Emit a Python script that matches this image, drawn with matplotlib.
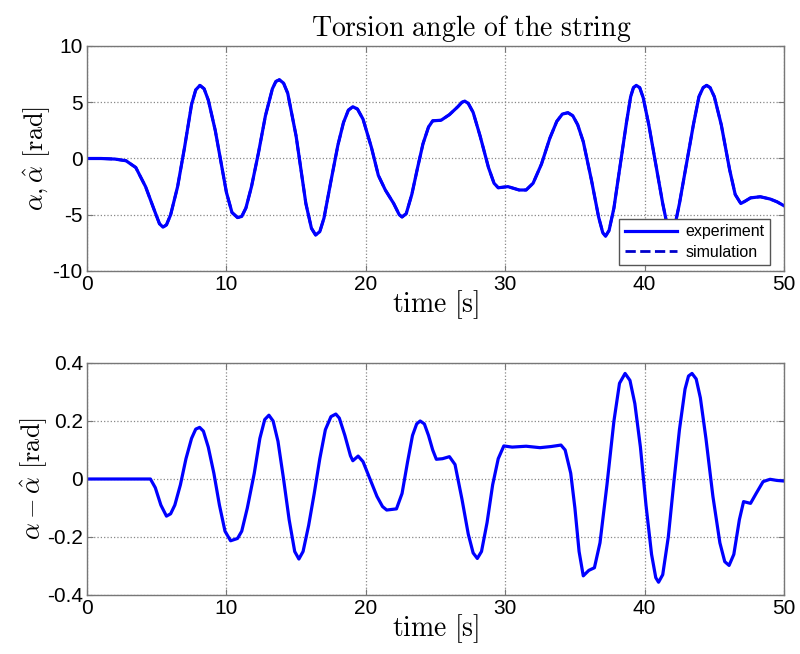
import matplotlib
matplotlib.use("Agg")
import matplotlib.pyplot as plt

plt.rcParams['mathtext.fontset'] = 'cm'
plt.rcParams['font.family'] = ['Liberation Sans', 'DejaVu Sans']
plt.rcParams['axes.unicode_minus'] = False

# Top panel: torsion angle alpha [rad]
t_top = [0, 1, 2, 2.8, 3.5, 4.2, 4.8, 5.2, 5.45, 5.7, 6.0, 6.5, 7.0, 7.5, 7.8, 8.1, 8.4, 8.7,
         9.2, 10.0, 10.4, 10.8, 11.1, 11.4, 11.8, 12.3, 12.8, 13.3, 13.55, 13.8, 14.1, 14.4,
         15.0, 15.7, 16.1, 16.4, 16.7, 17.0, 17.5, 18.0, 18.4, 18.75, 19.07, 19.4, 19.8,
         20.4, 20.9, 21.4, 22.0, 22.4, 22.6, 22.9, 23.3, 23.7, 24.1, 24.5, 24.8, 25.4, 26.0,
         26.6, 26.9, 27.1, 27.35, 27.7, 28.2, 28.8, 29.2, 29.5, 30.2, 31.0, 31.5, 32.0, 32.6,
         33.2, 33.7, 34.1, 34.5, 34.85, 35.2, 35.6, 36.2, 36.7, 37.0, 37.2, 37.45, 37.8, 38.2,
         38.7, 39.0, 39.2, 39.4, 39.65, 39.9, 40.3, 40.8, 41.3, 41.6, 41.9, 42.2, 42.5, 43.0,
         43.5, 43.9, 44.2, 44.45, 44.7, 45.0, 45.5, 46.1, 46.5, 46.9, 47.2, 47.6, 48.3, 49.0,
         49.5, 50.0]
alpha = [0, 0, -0.05, -0.2, -0.8, -2.5, -4.5, -5.8, -6.1, -5.9, -5.0, -2.5, 1.0, 4.8, 6.1, 6.5, 6.2, 5.2,
         2.5, -3.0, -4.8, -5.25, -5.15, -4.4, -2.5, 0.5, 3.8, 6.2, 6.85, 7.0, 6.7, 5.8,
         2.0, -4.0, -6.2, -6.8, -6.5, -5.3, -2.0, 1.2, 3.2, 4.3, 4.6, 4.4, 3.5,
         1.0, -1.5, -2.8, -4.0, -5.0, -5.2, -4.9, -3.2, -0.9, 1.3, 2.8, 3.35, 3.4, 3.9,
         4.6, 5.0, 5.1, 4.9, 4.1, 2.0, -0.8, -2.2, -2.6, -2.5, -2.8, -2.8, -2.2, -0.5,
         1.8, 3.3, 3.95, 4.07, 3.8, 3.0, 1.5, -2.0, -5.2, -6.6, -6.9, -6.4, -4.4, -1.0,
         3.2, 5.5, 6.3, 6.5, 6.3, 5.4, 3.0, -0.5, -4.0, -5.8, -6.4, -5.8, -4.0, -0.5,
         3.0, 5.5, 6.3, 6.5, 6.3, 5.5, 3.0, -1.0, -3.2, -4.0, -3.8, -3.5, -3.4, -3.6,
         -3.85, -4.2]

# Bottom panel: alpha - alpha_hat [rad]
t_bot = [0, 4.55, 4.9, 5.3, 5.7, 6.0, 6.3, 6.7, 7.1, 7.5, 7.8, 8.08, 8.35, 8.7, 9.1, 9.5, 9.9,
         10.3, 10.8, 11.1, 11.5, 12.0, 12.4, 12.75, 13.05, 13.35, 13.7, 14.1, 14.5, 14.9, 15.2,
         15.5, 15.9, 16.3, 16.7, 17.1, 17.5, 17.85, 18.1, 18.5, 18.9, 19.07, 19.45, 19.8, 20.3,
         20.8, 21.2, 21.5, 22.2, 22.6, 23.0, 23.35, 23.65, 23.9, 24.2, 24.5, 24.8, 25.06, 25.5,
         26.0, 26.4, 26.9, 27.35, 27.7, 28.0, 28.3, 28.7, 29.1, 29.5, 29.9, 30.5, 31.5, 32.5,
         33.3, 34.0, 34.3, 34.7, 35.0, 35.3, 35.6, 36.0, 36.4, 36.8, 37.3, 37.8, 38.2, 38.6,
         38.95, 39.3, 39.7, 40.1, 40.5, 40.8, 41.0, 41.3, 41.7, 42.1, 42.5, 42.9, 43.15, 43.4,
         43.7, 44.0, 44.4, 44.9, 45.4, 45.75, 46.06, 46.4, 46.8, 47.1, 47.6, 48.0, 48.5, 49.0,
         49.5, 50.0]
err = [0, 0, -0.03, -0.09, -0.128, -0.12, -0.09, -0.02, 0.07, 0.14, 0.172, 0.178, 0.165, 0.11, 0.02, -0.09, -0.18,
       -0.213, -0.205, -0.18, -0.10, 0.02, 0.14, 0.205, 0.22, 0.2, 0.13, 0.0, -0.14, -0.25, -0.276,
       -0.25, -0.16, -0.05, 0.07, 0.17, 0.215, 0.224, 0.21, 0.15, 0.08, 0.063, 0.079, 0.06, 0.0,
       -0.06, -0.095, -0.107, -0.103, -0.05, 0.06, 0.15, 0.19, 0.20, 0.19, 0.15, 0.10, 0.068, 0.07,
       0.077, 0.05, -0.07, -0.19, -0.255, -0.274, -0.25, -0.15, -0.02, 0.07, 0.114, 0.11, 0.113, 0.108,
       0.112, 0.117, 0.10, 0.02, -0.10, -0.25, -0.334, -0.315, -0.306, -0.22, -0.02, 0.2, 0.33, 0.364,
       0.34, 0.26, 0.11, -0.09, -0.26, -0.34, -0.356, -0.33, -0.2, -0.01, 0.17, 0.31, 0.355, 0.364,
       0.345, 0.28, 0.14, -0.06, -0.22, -0.285, -0.298, -0.26, -0.14, -0.078, -0.084, -0.05, -0.009, -0.001,
       -0.005, -0.007]

x_ticks = [0, 10, 20, 30, 40, 50]
y_ticks_top = [-10, -5, 0, 5, 10]
y_ticks_bot = [-0.4, -0.2, 0, 0.2, 0.4]
y_ticklabels_bot = ['-0.4', '-0.2', '0', '0.2', '0.4']

blue = '#0000ff'
dblue = '#0000cc'
W, H = 800, 654
fig = plt.figure(figsize=(W / 100, H / 100), dpi=100)

def frac(l, t, r, b):
    return [l / W, 1 - b / H, (r - l) / W, (b - t) / H]

ax1 = fig.add_axes(frac(87, 46, 784, 271))
ax2 = fig.add_axes(frac(87, 363, 784, 595))

def style(ax):
    ax.grid(True, linestyle=':', color='#888888', linewidth=0.9)
    for s in ax.spines.values():
        s.set_color('#777777')
        s.set_linewidth(1.0)
    ax.tick_params(direction='in', length=4, color='#777777', labelsize=15,
                   top=True, right=True, pad=3)
    ax.set_xlim(0, 50)
    ax.set_xticks(x_ticks)

ax1.plot(t_top, alpha, color=blue, linewidth=2.3, label='experiment')
ax1.plot(t_top, alpha, color=dblue, linewidth=2.0, linestyle='--', label='simulation', zorder=1.5)
style(ax1)
ax1.set_ylim(-10, 10)
ax1.set_yticks(y_ticks_top)
ax1.set_title(r'$\mathrm{Torsion\ angle\ of\ the\ string}$', fontsize=20, pad=7, x=0.551)
ax1.set_ylabel(r'$\alpha, \hat{\alpha}\ [\mathrm{rad}]$', fontsize=19, labelpad=0)
ax1.set_xlabel(r'$\mathrm{time}\ [\mathrm{s}]$', fontsize=20, labelpad=-4)
leg = ax1.legend(loc='lower right', bbox_to_anchor=(0.98, 0.025), fontsize=11.5,
                 fancybox=False, framealpha=1, edgecolor='#555555', handlelength=3.3,
                 borderpad=0.35, labelspacing=0.35, handletextpad=0.5, borderaxespad=0)
leg.get_frame().set_linewidth(1.0)

ax2.plot(t_bot, err, color=blue, linewidth=2.3)
style(ax2)
ax2.set_ylim(-0.4, 0.4)
ax2.set_yticks(y_ticks_bot)
ax2.set_yticklabels(y_ticklabels_bot)
ax2.set_ylabel(r'$\alpha - \hat{\alpha}\ [\mathrm{rad}]$', fontsize=19, labelpad=-2)
ax2.set_xlabel(r'$\mathrm{time}\ [\mathrm{s}]$', fontsize=20, labelpad=-4)

fig.savefig('out.png', dpi=100)
